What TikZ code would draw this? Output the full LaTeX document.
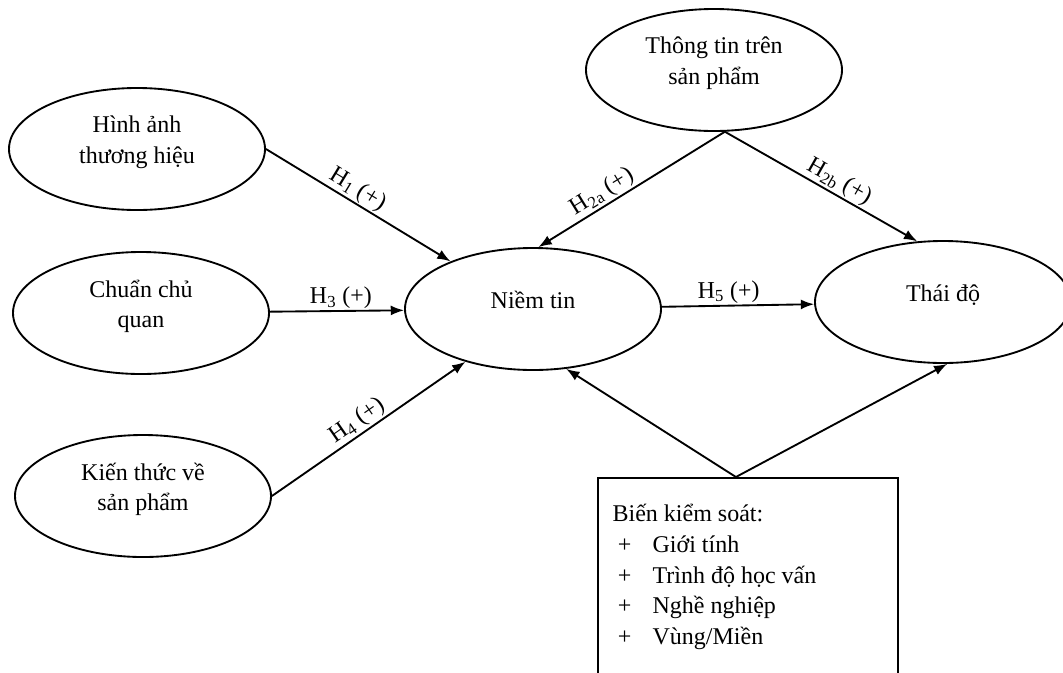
\documentclass[tikz,border=0pt]{standalone}
\usepackage{fontspec}
\setmainfont{Liberation Serif}
\usetikzlibrary{arrows.meta,shapes.geometric}
\tikzstyle{construct} = [ellipse, draw, line width=1.4pt, minimum width=192pt,
    minimum height=91.5pt, inner sep=0pt, align=center, text depth=14pt]
\tikzstyle{ctrlbox} = [rectangle, draw, line width=1.4pt, anchor=north west,
    inner xsep=11pt, inner ysep=0pt]
\tikzstyle{hyp} = [sloped, above, inner sep=1pt]

\begin{document}
\begin{tikzpicture}[->,>={Latex[length=10pt,width=7.5pt]},line width=1.4pt,
                    x=0.75pt,y=-0.75pt,font=\fontsize{18}{23}\selectfont]
  \clip (0,0) rectangle (1063,672);

  \node[construct] (hinh)     at (137,149) {Hình ảnh\\thương hiệu};
  \node[construct] (chuan)    at (141,313) {Chuẩn chủ\\quan};
  \node[construct] (kienthuc) at (143,496) {Kiến thức về\\sản phẩm};
  \node[construct] (niemtin)  at (533,309) {Niềm tin};
  \node[construct] (thongtin) at (714,70)  {Thông tin trên\\sản phẩm};
  \node[construct] (thaido)   at (943,302) {Thái độ};
  \node[ctrlbox]   (ctrl)     at (597,477) {\parbox[t][210pt][t]{203pt}{%
      \rule{0pt}{33pt}Biến kiểm soát:\\
      \hspace*{4pt}\makebox[26pt][l]{+}Giới tính\\
      \hspace*{4pt}\makebox[26pt][l]{+}Trình độ học vấn\\
      \hspace*{4pt}\makebox[26pt][l]{+}Nghề nghiệp\\
      \hspace*{4pt}\makebox[26pt][l]{+}Vùng/Miền}};

  \draw (hinh.east) -- node[hyp,pos=0.46] {H\textsubscript{1} (+)} (niemtin.150);
  \draw (chuan) -- node[hyp,pos=0.53] {H\textsubscript{3} (+)} (niemtin);
  \draw (kienthuc.east) -- node[hyp,pos=0.48] {H\textsubscript{4} (+)} (niemtin.218);
  \draw (thongtin.-80) -- node[hyp,pos=0.62] {H\textsubscript{2a} (+)} (niemtin.85);
  \draw (thongtin.-80) -- node[hyp,pos=0.56] {H\textsubscript{2b} (+)} (thaido.113);
  \draw (niemtin) -- node[hyp,pos=0.44] {H\textsubscript{5} (+)} (thaido);
  \draw ([xshift=-9pt]ctrl.north) -- (niemtin.-61);
  \draw ([xshift=-9pt]ctrl.north) -- (thaido.-86);
\end{tikzpicture}
\end{document}
